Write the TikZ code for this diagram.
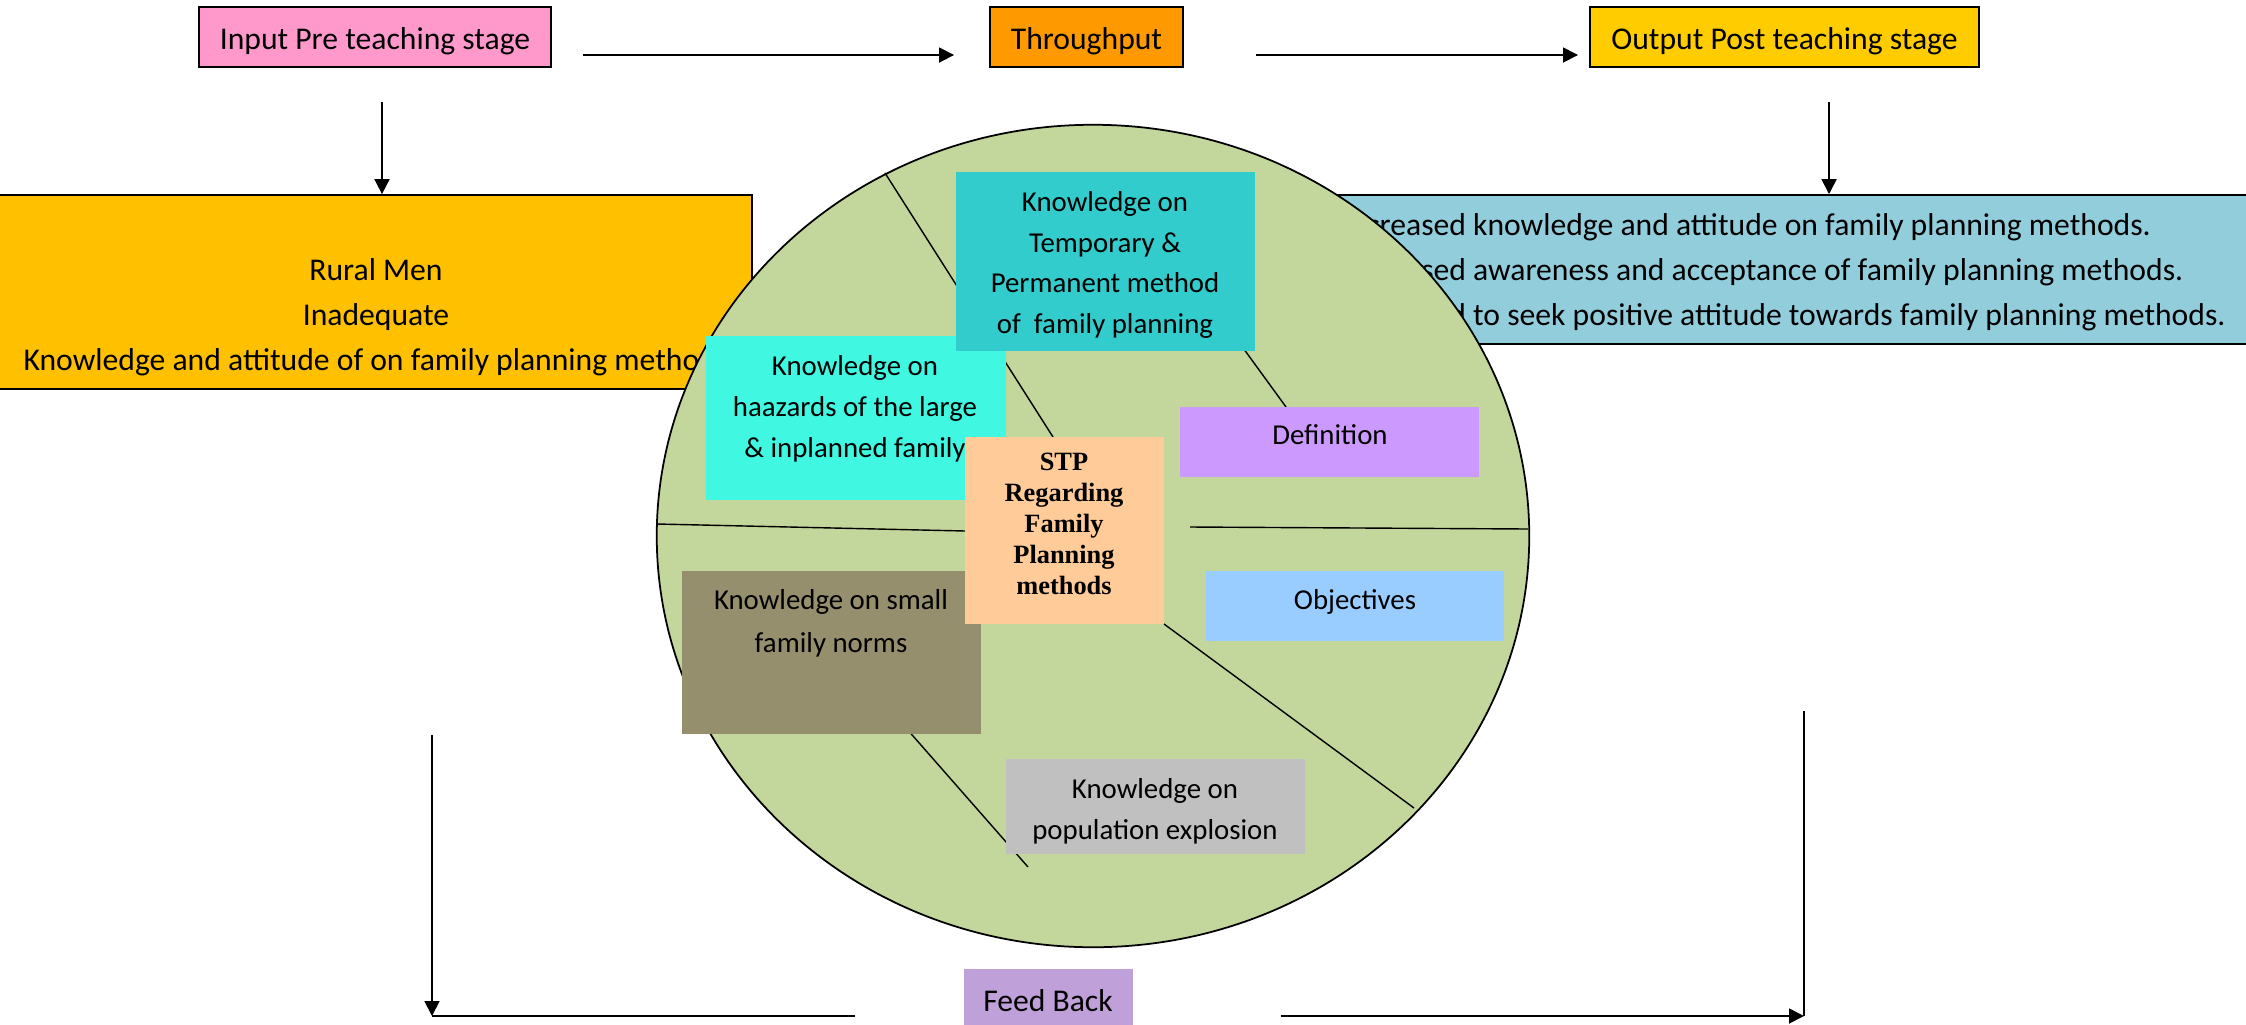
\documentclass[tikz,border=0pt]{standalone}
\usepackage{fontspec}
\setmainfont{Carlito}
\newfontfamily\stpfont{Liberation Serif}
\usetikzlibrary{fit,arrows.meta,shapes.geometric}

\definecolor{inpink}{HTML}{FF99CC}
\definecolor{throrange}{HTML}{FF9900}
\definecolor{outyellow}{HTML}{FFCC00}
\definecolor{ruralgold}{HTML}{FFC000}
\definecolor{outblue}{HTML}{92CDDC}
\definecolor{piegreen}{HTML}{C3D69B}
\definecolor{tealbox}{HTML}{33CCCC}
\definecolor{aquabox}{HTML}{40F8E2}
\definecolor{normsbox}{HTML}{958F6E}
\definecolor{popgray}{HTML}{C0C0C0}
\definecolor{defpurple}{HTML}{CC99FF}
\definecolor{objblue}{HTML}{99CCFF}
\definecolor{stppeach}{HTML}{FFCC99}
\definecolor{feedlav}{HTML}{BFA0D8}

\begin{document}
\begin{tikzpicture}[x=0.01cm, y=-0.01cm,
  stage/.style={draw=black, line width=0.5pt, inner sep=0pt, minimum height=0.60cm,
                text height=7.5pt, text depth=0.6pt,
                font=\fontsize{9}{12.8}\selectfont},
  frame/.style={draw=black, line width=0.5pt, inner sep=0pt},
  panel/.style={inner sep=0pt},
  paneltext/.style={inner sep=0pt, align=center, font=\fontsize{8.2}{11.6}\selectfont},
  bodytext/.style={inner sep=0pt, font=\fontsize{9}{12.8}\selectfont},
  link/.style={line width=0.5pt, -{Triangle[length=1.5mm, width=1.5mm]}},
  plain/.style={line width=0.5pt},
  divider/.style={line width=0.4pt},
]
\useasboundingbox (0,0) rectangle (2246,1024);
\clip (0,0) rectangle (2246,1024);

% ---- stage headers ----
\node[stage, fill=inpink, minimum width=3.52cm] (input) at (375,37) {Input Pre teaching stage};
\node[stage, fill=throrange, minimum width=1.93cm] (thr) at (1086.5,37) {Throughput};
\node[stage, fill=outyellow, minimum width=3.89cm] (out) at (1784.5,37) {Output Post teaching stage};

\draw[link, shorten <=0.31cm, shorten >=0.35cm] ([yshift=-0.18cm]input.east) -- ([yshift=-0.18cm]thr.west);
\draw[link, shorten <=0.72cm, shorten >=0.11cm] ([yshift=-0.18cm]thr.east) -- ([yshift=-0.18cm]out.west);

% ---- input and output panels ----
\node[frame, fill=ruralgold, fit={(-5,195) (752,389)}] (rural) {};
\node[bodytext, align=center] (ruraltext) at (376,317)
  {Rural Men\\Inadequate\\Knowledge and attitude of on family planning methods};

\node[frame, fill=outblue, fit={(1320,195) (2270,344)}] (result) {};
\node[bodytext, align=left, anchor=west] (resulttext) at (1341,272)
  {Increased knowledge and attitude on family planning methods.\\
   Increased awareness and acceptance of family planning methods.\\
   Increased to seek positive attitude towards family planning methods.};

\coordinate (inputdrop) at ([xshift=0.07cm]input.south);
\draw[link, shorten <=0.34cm] (inputdrop) -- (inputdrop |- rural.north);
\coordinate (outdrop) at ([xshift=0.445cm]out.south);
\draw[link, shorten <=0.34cm] (outdrop) -- (outdrop |- result.north);

% ---- throughput wheel ----
\node[draw=black, line width=0.5pt, fill=piegreen, ellipse, inner sep=0pt,
      minimum width=8.72cm, minimum height=8.22cm] (pie) at (1093,536) {};

\draw[divider] (885,173) -- (1053,437);
\draw[divider] (1230,330) -- (1286,407);
\draw[divider] (657,524) -- (965,531);
\draw[divider] (1190,527) -- (1528,529);
\draw[divider] (1164,624) -- (1414,808);
\draw[divider] (899,720) -- (1028,867);

\node[panel, fill=aquabox, fit={(706,336) (1006,500)}] (hazard) {};
\node[paneltext, font=\fontsize{8.2}{11.7}\selectfont] (hazardtext) at (855,409)
  {Knowledge on\\haazards of the large\\\& inplanned family};

\node[panel, fill=tealbox, fit={(956,172) (1255,351)}] (temp) {};
\node[paneltext] (temptext) at (1105,265)
  {Knowledge on\\Temporary \&\\Permanent method\\of\ \ family planning};

\node[panel, fill=normsbox, fit={(682,571) (981,734)}] (norms) {};
\node[paneltext, font=\fontsize{8.2}{12.2}\selectfont] (normstext) at (831,623)
  {Knowledge on small\\family norms};

\node[panel, fill=stppeach, fit={(965,437) (1164,624)}] (stp) {};
\node[inner sep=0pt, align=center, font=\stpfont\bfseries\fontsize{7.5}{8.8}\selectfont] (stptext) at (1064,524)
  {STP\\Regarding\\Family\\Planning\\methods};

\node[panel, fill=defpurple, fit={(1180,407) (1479,477)}] (def) {};
\node[paneltext] (deftext) at (1330,435) {Definition};

\node[panel, fill=objblue, fit={(1206,571) (1504,641)}] (obj) {};
\node[paneltext] (objtext) at (1355,602) {Objectives};

\node[panel, fill=popgray, fit={(1006,759) (1305,854)}] (pop) {};
\node[paneltext] (poptext) at (1155,811) {Knowledge on\\population explosion};

% ---- feedback loop ----
\node[panel, fill=feedlav, fit={(964,969) (1133,1031)}] (fb) {};
\node[bodytext] (fbtext) at (1048,1001) {Feed Back};

\coordinate (fbLtop) at (432,735);
\coordinate (fbLcorner) at (432,1016);
\coordinate (fbRtop) at (1804,711);
\coordinate (fbRcorner) at (1804,1016);

\draw[link] (fbLtop) -- (fbLcorner);
\draw[plain, shorten >=1.08cm] (fbLcorner) -- (fb.west |- fbLcorner);
\draw[link, shorten <=1.47cm] (fb.east |- fbRcorner) -- (fbRcorner);
\draw[plain] (fbRtop) -- (fbRcorner);
\end{tikzpicture}
\end{document}
